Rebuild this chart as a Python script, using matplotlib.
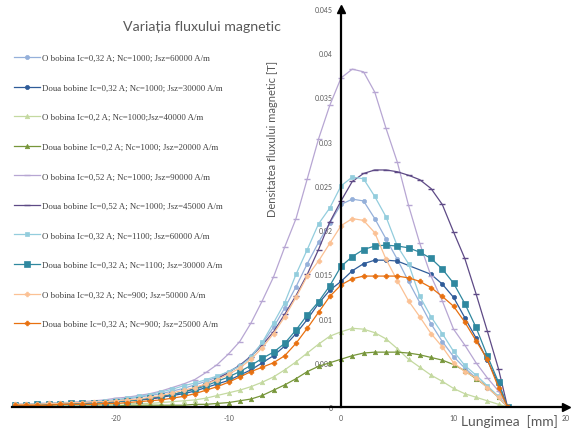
import matplotlib
matplotlib.use("Agg")
import matplotlib.pyplot as plt
from matplotlib.ticker import FuncFormatter, FixedLocator

plt.rcParams["axes.unicode_minus"] = False

# ------------------------------------------------------------
# Data (position in mm, flux density in T)
# ------------------------------------------------------------
X = [-29, -28, -27, -26, -25, -24, -23, -22, -21, -20, -19, -18, -17, -16, -15,
     -14, -13, -12, -11, -10, -9, -8, -7, -6, -5, -4, -3, -2, -1, 0,
     1, 2, 3, 4, 5, 6, 7, 8, 9, 10, 11, 12, 13, 14, 14.8]

o_032_1000 = [0.0003, 0.0003, 0.0004, 0.0004, 0.0005, 0.0005, 0.0006, 0.0006, 0.0007, 0.0008,
              0.0009, 0.0011, 0.0013, 0.0015, 0.0018, 0.0021, 0.0025, 0.0029, 0.0034, 0.0040,
              0.0047, 0.0058, 0.0072, 0.0090, 0.0112, 0.0136, 0.0162, 0.0186, 0.0208, 0.0229,
              0.0235, 0.0233, 0.0213, 0.0190, 0.0167, 0.0142, 0.0118, 0.0094, 0.0074, 0.0057,
              0.0044, 0.0033, 0.0022, 0.0011, 0.0]
d_032_1000 = [0.0002, 0.0002, 0.0003, 0.0003, 0.0003, 0.0004, 0.0004, 0.0005, 0.0005, 0.0006,
              0.0007, 0.0008, 0.0009, 0.0011, 0.0013, 0.0015, 0.0018, 0.0022, 0.0026, 0.0030,
              0.0036, 0.0042, 0.0050, 0.0058, 0.0069, 0.0083, 0.0099, 0.0117, 0.0132, 0.0142,
              0.0154, 0.0162, 0.0166, 0.0166, 0.0165, None, None, 0.0150, 0.0139, 0.0124,
              0.0101, 0.0078, 0.0053, 0.0026, 0.0]
o_02_1000 = [0.0002, 0.0002, 0.0002, 0.0002, 0.0003, 0.0003, 0.0003, 0.0003, 0.0003, 0.0003,
             0.0004, 0.0004, 0.0004, 0.0005, 0.0006, 0.0007, 0.0008, 0.0010, 0.0013, 0.0016,
             0.0019, 0.0023, 0.0028, 0.0034, 0.0042, 0.0051, 0.0061, 0.0071, 0.0080, 0.0085,
             0.0089, 0.0088, 0.0084, 0.0077, 0.0066, 0.0054, 0.0045, 0.0036, 0.0029, 0.0021,
             0.0015, 0.0011, 0.0007, 0.0003, 0.0]
d_02_1000 = [0.0001, 0.0001, 0.0001, 0.0001, 0.0001, 0.0001, 0.0001, 0.0001, 0.0001, 0.0001,
             0.0002, 0.0002, 0.0002, 0.0002, 0.0002, 0.0002, 0.0003, 0.0003, 0.0004, 0.0005,
             0.0007, 0.0009, 0.0013, 0.0019, 0.0025, 0.0032, 0.0040, 0.0046, 0.0050, 0.0054,
             0.0058, 0.0061, 0.0062, 0.0062, 0.0062, 0.0061, 0.0059, 0.0056, 0.0053, 0.0048,
             0.0041, 0.0032, 0.0023, 0.0011, 0.0]
o_052_1000 = [0.0003, 0.0003, 0.0004, 0.0004, 0.0005, 0.0005, 0.0006, 0.0007, 0.0008, 0.0010,
              0.0011, 0.0013, 0.0015, 0.0018, 0.0022, 0.0026, 0.0031, 0.0039, 0.0048, 0.0060,
              0.0074, 0.0095, 0.0120, 0.0147, 0.0181, 0.0213, 0.0258, 0.0303, 0.0341, 0.0372,
              0.0382, 0.0379, 0.0356, 0.0315, 0.0277, 0.0228, 0.0185, 0.0148, 0.0120, 0.0088,
              0.0070, 0.0050, 0.0033, 0.0018, 0.0]
d_052_1000 = [0.0002, 0.0002, 0.0003, 0.0003, 0.0003, 0.0004, 0.0004, 0.0005, 0.0005, 0.0006,
              0.0007, 0.0008, 0.0009, 0.0011, 0.0014, 0.0017, 0.0021, 0.0026, 0.0032, 0.0039,
              0.0047, 0.0057, 0.0070, 0.0085, 0.0105, 0.0126, 0.0150, 0.0178, 0.0209, 0.0233,
              0.0255, 0.0264, 0.0268, 0.0268, 0.0266, 0.0262, 0.0257, 0.0247, 0.0229, 0.0198,
              0.0168, 0.0128, 0.0086, 0.0043, 0.0]
o_032_1100 = [0.0003, 0.0003, 0.0004, 0.0004, 0.0005, 0.0005, 0.0005, 0.0006, 0.0007, 0.0008,
              0.0010, 0.0012, 0.0014, 0.0017, 0.0020, 0.0024, 0.0027, 0.0031, 0.0035, 0.0040,
              0.0046, 0.0056, 0.0073, 0.0095, 0.0118, 0.0150, 0.0178, 0.0207, 0.0225, 0.0250,
              0.0260, 0.0258, 0.0238, 0.0215, 0.0182, 0.0162, 0.0125, 0.0102, 0.0083, 0.0063,
              0.0047, 0.0036, 0.0024, 0.0012, 0.0]
d_032_1100 = [0.0002, 0.0002, 0.0003, 0.0003, 0.0003, 0.0004, 0.0004, 0.0005, 0.0005, 0.0006,
              0.0007, 0.0008, 0.0010, 0.0012, 0.0014, 0.0017, 0.0020, 0.0024, 0.0029, 0.0034,
              0.0040, 0.0047, 0.0055, 0.0062, 0.0072, 0.0087, 0.0104, 0.0119, 0.0137, 0.0159,
              0.0170, 0.0178, 0.0182, 0.0183, 0.0182, 0.0180, 0.0175, 0.0168, 0.0156, 0.0140,
              0.0117, 0.0090, 0.0058, 0.0028, 0.0]
o_032_900 = [0.0003, 0.0003, 0.0003, 0.0004, 0.0004, 0.0005, 0.0005, 0.0006, 0.0006, 0.0007,
             0.0008, 0.0009, 0.0011, 0.0013, 0.0016, 0.0019, 0.0022, 0.0026, 0.0031, 0.0037,
             0.0044, 0.0054, 0.0067, 0.0083, 0.0102, 0.0124, 0.0148, 0.0165, 0.0185, 0.0205,
             0.0213, 0.0211, 0.0197, 0.0167, 0.0143, 0.0120, 0.0102, 0.0083, 0.0068, 0.0050,
             0.0040, 0.0033, 0.0022, 0.0011, 0.0]
d_032_900 = [0.0002, 0.0002, 0.0002, 0.0002, 0.0003, 0.0003, 0.0003, 0.0003, 0.0004, 0.0004,
             0.0005, 0.0006, 0.0007, 0.0008, 0.0010, 0.0012, 0.0015, 0.0019, 0.0023, 0.0028,
             0.0034, 0.0040, 0.0045, 0.0050, 0.0058, 0.0072, 0.0089, 0.0107, 0.0125, 0.0138,
             0.0145, 0.0148, 0.0148, 0.0148, 0.0148, 0.0146, 0.0142, 0.0135, 0.0125, 0.0114,
             0.0096, 0.0075, 0.0054, 0.0022, 0.0]

LABELS = [
    "O bobina Ic=0,32 A; Nc=1000; Jsz=60000 A/m",
    "Doua bobine Ic=0,32 A; Nc=1000; Jsz=30000 A/m",
    "O bobina Ic=0,2 A; Nc=1000;Jsz=40000 A/m",
    "Doua bobine Ic=0,2 A; Nc=1000; Jsz=20000 A/m",
    "O bobina Ic=0,52 A; Nc=1000; Jsz=90000 A/m",
    "Doua bobine Ic=0,52 A; Nc=1000; Jsz=45000 A/m",
    "O bobina Ic=0,32 A; Nc=1100; Jsz=60000 A/m",
    "Doua bobine Ic=0,32 A; Nc=1100; Jsz=30000 A/m",
    "O bobina Ic=0,32 A; Nc=900; Jsz=50000 A/m",
    "Doua bobine Ic=0,32 A; Nc=900; Jsz=25000 A/m",
]
SERIES = [o_032_1000, d_032_1000, o_02_1000, d_02_1000, o_052_1000,
          d_052_1000, o_032_1100, d_032_1100, o_032_900, d_032_900]

# colour, marker, marker size
STYLES = [
    ("#95B0DA", "o", 3.0),
    ("#2F5C99", "o", 3.0),
    ("#C4D9A0", "^", 3.2),
    ("#77963A", "^", 3.2),
    ("#B7A6D3", "_", 4.5),
    ("#5E4A86", "_", 4.5),
    ("#93CDDD", "s", 3.2),
    ("#2F889F", "s", 3.8),
    ("#FBC194", "P", 3.4),
    ("#E8700F", "P", 3.4),
]

SANS = ["Lato", "DejaVu Sans"]

# ------------------------------------------------------------
# Figure
# ------------------------------------------------------------
fig = plt.figure(figsize=(5.76, 4.31), dpi=100)
ax = fig.add_axes([0.0217, 0.0534, 0.961, 0.9234])

for ys, lbl, (col, mk, ms) in zip(SERIES, LABELS, STYLES):
    pts = [(x, y) for x, y in zip(X, ys) if y is not None]
    xs = [p[0] for p in pts]
    yv = [p[1] for p in pts]
    ax.plot(xs, yv, color=col, marker=mk, markersize=ms, linewidth=0.9,
            markeredgewidth=1.0 if mk == "_" else 0.5, label=lbl)

ax.set_xlim(-29.2, 20)
ax.set_ylim(0, 0.045)

# axes through origin with arrows
for s in ("top", "right"):
    ax.spines[s].set_visible(False)
ax.spines["left"].set_position(("data", 0))
ax.spines["left"].set_linewidth(1.6)
ax.spines["bottom"].set_linewidth(1.6)
ax.plot(1, 0, ">k", markersize=6, transform=ax.get_yaxis_transform(), clip_on=False)
ax.plot(0, 1, "^k", markersize=6, transform=ax.get_xaxis_transform(), clip_on=False)

ax.xaxis.set_major_locator(FixedLocator([-20, -10, 0, 10, 20]))
ax.yaxis.set_major_locator(FixedLocator([0, 0.005, 0.01, 0.015, 0.02, 0.025,
                                         0.03, 0.035, 0.04, 0.045]))
ax.xaxis.set_major_formatter(FuncFormatter(lambda v, p: "%d" % v))
ax.yaxis.set_major_formatter(FuncFormatter(lambda v, p: "%g" % v))
ax.tick_params(axis="both", length=0, labelsize=5, labelcolor="#595959")
ax.tick_params(axis="x", pad=5)
ax.tick_params(axis="y", pad=6)
for t in ax.get_xticklabels() + ax.get_yticklabels():
    t.set_family(SANS)

# titles and labels
fig.text(202 / 576, 1 - 27 / 431, "Variația fluxului magnetic", ha="center",
         va="center", fontsize=10.2, color="#595959", family=SANS)
fig.text(272 / 576, 1 - 139 / 431, "Densitatea fluxului magnetic [T]",
         rotation=90, ha="center", va="center", fontsize=8, color="#595959",
         family=SANS)
fig.text(509 / 576, 1 - 422 / 431, "Lungimea  [mm]", ha="center", va="center",
         fontsize=10, color="#595959", family=SANS)

leg = fig.legend(loc="upper left", bbox_to_anchor=(14 / 576, 1 - 55 / 431),
                 frameon=False, prop={"family": "Liberation Serif", "size": 6.3},
                 labelspacing=2.45, handlelength=3.0, handletextpad=0.15,
                 borderpad=0, borderaxespad=0)
for t in leg.get_texts():
    t.set_color("#404040")

fig.savefig("out.png", dpi=100)
